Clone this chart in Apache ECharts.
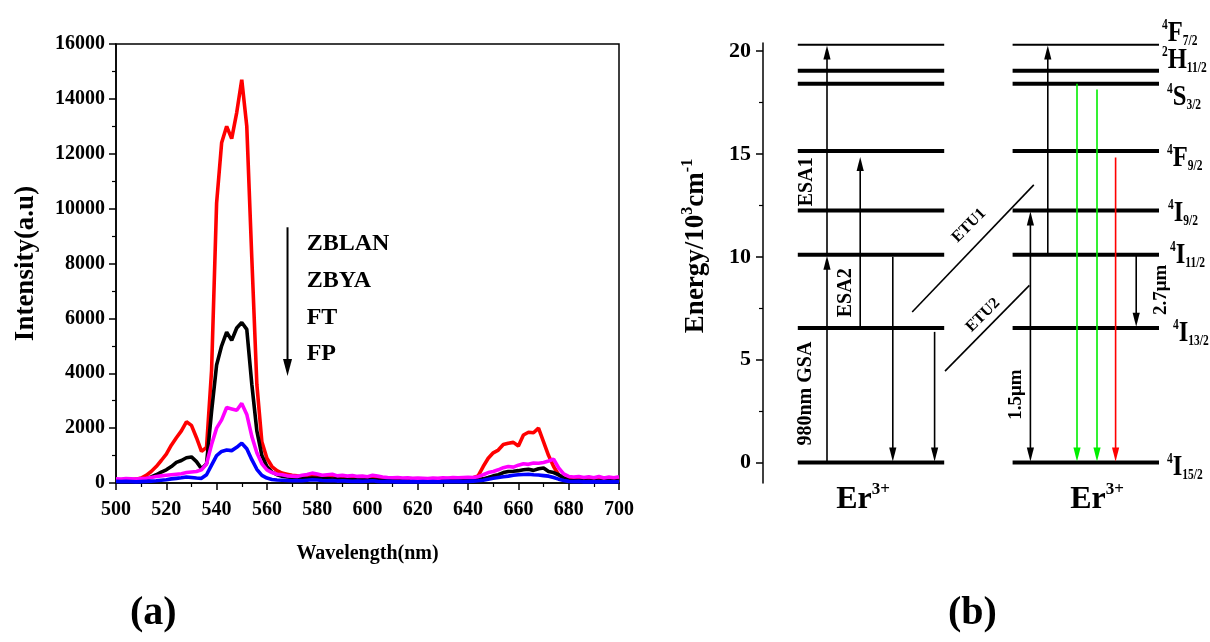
<!DOCTYPE html>
<html>
<head>
<meta charset="utf-8">
<script src="https://cdn.jsdelivr.net/npm/echarts@6/dist/echarts.min.js"></script>
<style>
html, body { margin: 0; padding: 0; background: #fff; }
#chart { width: 1210px; height: 642px; }
</style>
</head>
<body>
<div id="chart"></div>
<script>
// ---------- (a) Upconversion emission spectra, 500–700 nm, 2 nm steps ----------
const wavelengthStart = 500;
const wavelengthStep = 2;

const zblan = [
  120, 110, 130, 120, 140, 180, 280, 420, 600, 820,
  1050, 1380, 1650, 1900, 2230, 2100, 1650, 1150, 1300, 4100,
  10200, 12400, 13000, 12550, 13500, 14700, 13000, 8200, 3600, 1500,
  900, 600, 450, 360, 320, 280, 260, 250, 230, 270,
  250, 220, 230, 200, 210, 190, 200, 180, 190, 170,
  200, 180, 160, 150, 160, 140, 150, 140, 130, 140,
  130, 140, 130, 140, 150, 140, 160, 150, 170, 160,
  180, 190, 260, 600, 900, 1100, 1200, 1400, 1450, 1480,
  1350, 1750, 1850, 1830, 2000, 1500, 1000, 600, 300, 180,
  150, 160, 140, 150, 130, 150, 140, 160, 130, 150,
  160
];
const zbya = [
  100, 90, 100, 110, 100, 120, 150, 220, 300, 400,
  480, 600, 750, 820, 920, 950, 780, 520, 700, 2600,
  4300, 5000, 5500, 5200, 5650, 5850, 5600, 3600, 1900, 1000,
  600, 400, 300, 250, 220, 200, 180, 170, 160, 180,
  170, 150, 160, 140, 150, 130, 140, 120, 130, 120,
  130, 120, 110, 100, 110, 100, 110, 100, 90, 100,
  90, 100, 90, 100, 110, 100, 110, 100, 110, 100,
  120, 110, 130, 150, 200, 260, 300, 380, 420, 430,
  450, 480, 500, 460, 520, 550, 420, 380, 300, 180,
  100, 80, 90, 80, 70, 80, 70, 80, 70, 80,
  70
];
const ft = [
  150, 140, 160, 150, 140, 160, 170, 200, 240, 260,
  280, 300, 320, 340, 380, 400, 420, 480, 700, 1400,
  2000, 2300, 2750, 2700, 2650, 2900, 2500, 1700, 1100, 700,
  480, 380, 320, 300, 260, 250, 240, 280, 310, 360,
  330, 280, 300, 320, 260, 280, 250, 270, 240, 250,
  230, 280, 250, 220, 200, 190, 200, 180, 190, 170,
  180, 170, 160, 180, 170, 190, 180, 200, 190, 200,
  210, 200, 230, 300, 380, 420, 480, 560, 600, 580,
  650, 700, 680, 730, 720, 750, 800, 870, 550, 330,
  240, 220, 240, 200, 230, 190, 240, 180, 220, 190,
  230
];
const fp = [
  60, 50, 60, 50, 40, 50, 60, 70, 80, 100,
  120, 150, 170, 190, 220, 200, 180, 170, 300, 650,
  1000, 1150, 1200, 1180, 1300, 1450, 1250, 850, 500, 280,
  180, 130, 110, 100, 90, 80, 90, 80, 100, 120,
  110, 90, 80, 90, 70, 80, 70, 60, 70, 60,
  70, 80, 60, 50, 60, 50, 40, 50, 40, 50,
  40, 50, 40, 50, 40, 50, 60, 50, 60, 50,
  60, 70, 80, 100, 140, 170, 200, 230, 250, 280,
  300, 310, 320, 300, 290, 270, 250, 200, 140, 90,
  60, 50, 60, 40, 50, 40, 50, 40, 50, 40,
  50
];

const sampleNames = ['ZBLAN', 'ZBYA', 'FT', 'FP'];
const sampleColors = ['#ff0000', '#000000', '#ff00ff', '#0000ff'];
// legend text anchors in data units (wavelength, intensity)
const sampleLabelAnchors = [[575.8, 8716], [575.8, 7369], [575.8, 6033], [575.8, 4698]];
// the "decreasing intensity" arrow next to the sample list
const sampleArrow = [568.2, 9320, 568.2, 3900];

const intensityTicks = [0, 2000, 4000, 6000, 8000, 10000, 12000, 14000, 16000];
const wavelengthTicks = [500, 520, 540, 560, 580, 600, 620, 640, 660, 680, 700];

// ---------- (b) Er3+ energy levels (10^3 cm^-1) ----------
const levelEnergies = [0, 6.54, 10.1, 12.25, 15.15, 18.42, 19.05, 20.32];
const levelTerms = ['4|I|15/2', '4|I|13/2', '4|I|11/2', '4|I|9/2', '4|F|9/2', '4|S|3/2', '2|H|11/2', '4|F|7/2'];
const energyMajorTicks = [0, 5, 10, 15, 20];
const energyMinorTicks = [2.5, 7.5, 12.5, 17.5];

// transitions: [x1, E1, x2, E2, arrowhead, colour index]
const transitions = [
  [16, 0, 16, 10.05, 1, 0],        // 980 nm GSA
  [16, 10.1, 16, 20.28, 1, 0],     // ESA1
  [24.3, 6.54, 24.3, 14.85, 1, 0], // ESA2
  [32.45, 10.0, 32.45, 0.05, 1, 0],
  [42.9, 6.35, 42.9, 0.05, 1, 0],
  [37.3, 7.32, 67.7, 13.5, 0, 0],  // ETU1
  [45.5, 4.44, 66.6, 8.61, 0, 0],  // ETU2
  [66.85, 6.54, 66.85, 12.2, 1, 0],
  [66.85, 6.54, 66.85, 0.05, 1, 0], // 1.5 um
  [71.2, 10.1, 71.2, 20.28, 1, 0],
  [78.5, 18.42, 78.5, 0.05, 1, 1],  // green
  [83.5, 18.14, 83.5, 0.05, 1, 1],  // green
  [88.15, 14.83, 88.15, 0.05, 1, 2],// red
  [93.3, 10.1, 93.3, 6.6, 1, 0]     // 2.7 um
];
const transitionColors = ['#000000', '#00ee00', '#ff0000'];

// process labels: [x, E, text]
const processLabels = [
  [10.7, 3.35, '980nm GSA'],
  [10.95, 13.65, 'ESA1'],
  [20.75, 8.25, 'ESA2'],
  [51.5, 11.52, 'ETU1'],
  [55.0, 7.16, 'ETU2'],
  [63.25, 3.3, '1.5μm'],
  [99.6, 8.4, '2.7μm']
];
const ionLabels = [[25, -1.75, 'Er'], [83.5, -1.75, 'Er']];

// ---------- layout ----------
const SERIF = "'Liberation Serif', 'Times New Roman', serif";
const leftColumn = [8.7, 45.3];
const rightColumn = [62.4, 99];
const levelLineWidths = [4, 4, 4, 4, 4, 4, 4, 2];
const processLabelRotate = [90, 90, 90, 45, 45, 90, 90];
const processLabelSize = [20, 20, 20, 16, 16, 19, 19];
// [dx, dy] of each term symbol from the right end of its level line
const termLabelOffsets = [[8, 4.5], [14, 5.5], [11, 0.5], [9, 2.5], [8, 7.5], [8, 13.5], [3, -10.5], [3, -11.5]];

const wavelengths = zblan.map((_, i) => wavelengthStart + i * wavelengthStep);
const pairs = arr => arr.map((v, i) => [wavelengths[i], v]);
const spectra = [zblan, zbya, ft, fp];

function arrowRenderer(lineWidth, headLen, headHalf) {
  return function (params, api) {
    const p1 = api.coord([api.value(0), api.value(1)]);
    const p2 = api.coord([api.value(2), api.value(3)]);
    const head = api.value(4);
    const color = transitionColors[api.value(5)];
    const dx = p2[0] - p1[0], dy = p2[1] - p1[1];
    const len = Math.hypot(dx, dy) || 1;
    const ux = dx / len, uy = dy / len;
    const children = [];
    let end = p2;
    if (head) {
      const bx = p2[0] - ux * headLen, by = p2[1] - uy * headLen;
      children.push({
        type: 'polygon',
        shape: { points: [[p2[0], p2[1]], [bx - uy * headHalf, by + ux * headHalf], [bx + uy * headHalf, by - ux * headHalf]] },
        style: { fill: color }
      });
      end = [bx + ux * 2, by + uy * 2];
    }
    children.push({
      type: 'line',
      shape: { x1: p1[0], y1: p1[1], x2: end[0], y2: end[1] },
      style: { stroke: color, lineWidth: lineWidth }
    });
    return { type: 'group', children: children };
  };
}

function renderLevel(params, api) {
  const E = api.value(0);
  const w = api.value(1);
  const segs = [leftColumn, rightColumn].map(col => {
    const a = api.coord([col[0], E]);
    const b = api.coord([col[1], E]);
    return { type: 'line', shape: { x1: a[0], y1: a[1], x2: b[0], y2: b[1] }, style: { stroke: '#000', lineWidth: w } };
  });
  return { type: 'group', children: segs };
}

const termRich = {
  sup: { fontFamily: SERIF, fontWeight: 'bold', fontSize: 14, fill: '#000', verticalAlign: 'top', lineHeight: 14 },
  main: { fontFamily: SERIF, fontWeight: 'bold', fontSize: 30, fill: '#000', verticalAlign: 'top', lineHeight: 30, padding: [0, 0, 5, 0] },
  sub: { fontFamily: SERIF, fontWeight: 'bold', fontSize: 14, fill: '#000', verticalAlign: 'bottom', lineHeight: 14 }
};

function renderTerm(params, api) {
  const i = params.dataIndex;
  const p = api.coord([rightColumn[1], api.value(0)]);
  const parts = levelTerms[i].split('|');
  const off = termLabelOffsets[i];
  return {
    type: 'text',
    x: p[0] + off[0],
    y: p[1] + off[1],
    scaleX: 0.82,
    style: {
      text: '{sup|' + parts[0] + '}{main|' + parts[1] + '}{sub|' + parts[2] + '}',
      rich: termRich,
      fill: '#000',
      align: 'left',
      verticalAlign: 'middle'
    }
  };
}

const chart = echarts.init(document.getElementById('chart'), null, { renderer: 'canvas' });

const boldText = { fontFamily: SERIF, fontWeight: 'bold', color: '#000' };
const plainNumber = v => String(v);

const option = {
  animation: false,
  backgroundColor: '#fff',
  textStyle: { fontFamily: SERIF },
  grid: [
    { left: 116, top: 44, width: 503, height: 439, show: true, borderColor: '#000', borderWidth: 1.5, containLabel: false },
    { left: 763, top: 43, width: 400, height: 440, show: false, containLabel: false }
  ],
  xAxis: [
    {
      type: 'value', gridIndex: 0, min: 500, max: 700, interval: 20,
      name: 'Wavelength(nm)', nameLocation: 'middle', nameGap: 61,
      nameTextStyle: Object.assign({ fontSize: 20 }, boldText),
      axisLine: { lineStyle: { color: '#000', width: 1.5 } },
      axisTick: { length: 7, lineStyle: { color: '#000', width: 1.5 } },
      minorTick: { show: true, splitNumber: 2, length: 4, lineStyle: { color: '#000', width: 1.2 } },
      axisLabel: Object.assign({ fontSize: 20, margin: 17, formatter: plainNumber }, boldText),
      splitLine: { show: false }
    },
    { type: 'value', gridIndex: 1, min: 0, max: 100, show: false }
  ],
  yAxis: [
    {
      type: 'value', gridIndex: 0, min: 0, max: 16000, interval: 2000,
      name: 'Intensity(a.u)', nameLocation: 'middle', nameGap: 76, nameRotate: 90,
      nameTextStyle: Object.assign({ fontSize: 27 }, boldText),
      axisLine: { show: true, lineStyle: { color: '#000', width: 1.5 } },
      axisTick: { show: true, length: 7, lineStyle: { color: '#000', width: 1.5 } },
      minorTick: { show: true, splitNumber: 2, length: 4, lineStyle: { color: '#000', width: 1.2 } },
      axisLabel: Object.assign({ fontSize: 20, margin: 11, formatter: plainNumber }, boldText),
      splitLine: { show: false }
    },
    {
      type: 'value', gridIndex: 1, min: -1, max: 20.4,
      name: '{t|Energy/10}{s|3}{t|cm}{s|-1}', nameLocation: 'middle', nameGap: 53, nameRotate: 90,
      nameTextStyle: {
        padding: [0, 0, 0, 34],
        rich: {
          t: { fontFamily: SERIF, fontWeight: 'bold', fontSize: 27, color: '#000', verticalAlign: 'bottom', lineHeight: 30 },
          s: { fontFamily: SERIF, fontWeight: 'bold', fontSize: 16, color: '#000', verticalAlign: 'top', lineHeight: 30 }
        }
      },
      axisLine: { show: true, onZero: false, lineStyle: { color: '#000', width: 1.5 } },
      axisTick: { show: true, length: 7, customValues: energyMajorTicks, lineStyle: { color: '#000', width: 1.5 } },
      axisLabel: Object.assign({ fontSize: 22, margin: 12, customValues: energyMajorTicks }, boldText),
      splitLine: { show: false }
    },
    {
      type: 'value', gridIndex: 1, min: -1, max: 20.4, position: 'left',
      axisLine: { show: false },
      axisTick: { show: true, length: 4, customValues: energyMinorTicks, lineStyle: { color: '#000', width: 1.2 } },
      axisLabel: { show: false },
      splitLine: { show: false }
    }
  ],
  graphic: [
    { type: 'text', left: 130, top: 594, style: { text: '(a)', font: 'bold 40px ' + SERIF, fill: '#000' } },
    { type: 'text', left: 948, top: 594, style: { text: '(b)', font: 'bold 40px ' + SERIF, fill: '#000' } }
  ],
  series: [
    ...spectra.map((arr, i) => ({
      type: 'line', xAxisIndex: 0, yAxisIndex: 0, name: sampleNames[i],
      data: pairs(arr), showSymbol: false, symbol: 'none', silent: true,
      lineStyle: { color: sampleColors[i], width: 3.6 }, z: 2 + i
    })),
    {
      type: 'custom', xAxisIndex: 0, yAxisIndex: 0, silent: true, z: 10,
      encode: { x: [0, 2], y: [1, 3] },
      renderItem: arrowRenderer(2, 17, 4.5),
      data: [sampleArrow.concat([1, 0])]
    },
    {
      type: 'scatter', xAxisIndex: 0, yAxisIndex: 0, silent: true, symbolSize: 0, z: 10,
      itemStyle: { opacity: 1, color: '#000' },
      data: sampleLabelAnchors.map((p, i) => ({ value: p, name: sampleNames[i] })),
      label: Object.assign({ show: true, position: 'right', distance: 0, fontSize: 24, opacity: 1, formatter: p => p.name }, boldText)
    },
    {
      type: 'custom', xAxisIndex: 1, yAxisIndex: 1, silent: true, clip: false,
      encode: { y: 0 },
      renderItem: renderLevel,
      data: levelEnergies.map((e, i) => [e, levelLineWidths[i]])
    },
    {
      type: 'custom', xAxisIndex: 1, yAxisIndex: 1, silent: true, clip: false, z: 5,
      encode: { x: [0, 2], y: [1, 3] },
      renderItem: arrowRenderer(1.6, 14, 3.6),
      data: transitions
    },
    {
      type: 'custom', xAxisIndex: 1, yAxisIndex: 1, silent: true, clip: false, z: 6,
      encode: { y: 0 },
      renderItem: renderTerm,
      data: levelEnergies.map(e => [e])
    },
    {
      type: 'scatter', xAxisIndex: 1, yAxisIndex: 1, silent: true, symbolSize: 0, clip: false, z: 6,
      itemStyle: { opacity: 1, color: '#000' },
      data: processLabels.map((p, i) => ({
        value: [p[0], p[1]], name: p[2],
        label: { rotate: processLabelRotate[i], fontSize: processLabelSize[i] }
      })),
      label: Object.assign({ show: true, position: 'inside', opacity: 1, formatter: p => p.name }, boldText)
    },
    {
      type: 'scatter', xAxisIndex: 1, yAxisIndex: 1, silent: true, symbolSize: 0, clip: false, z: 6,
      itemStyle: { opacity: 1, color: '#000' },
      data: ionLabels.map(p => ({ value: [p[0], p[1]], name: p[2] })),
      label: {
        show: true, position: 'inside', opacity: 1, formatter: p => '{m|' + p.name + '}{s|3+}',
        rich: {
          m: { fontFamily: SERIF, fontWeight: 'bold', fontSize: 32, color: '#000', verticalAlign: 'bottom', lineHeight: 34 },
          s: { fontFamily: SERIF, fontWeight: 'bold', fontSize: 17, color: '#000', verticalAlign: 'top', lineHeight: 34 }
        }
      }
    }
  ]
};

chart.setOption(option);
</script>
</body>
</html>
